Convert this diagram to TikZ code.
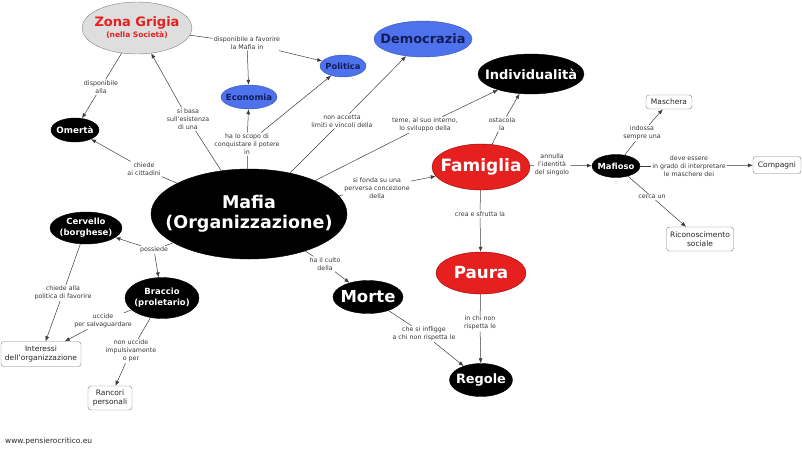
\documentclass[tikz,border=0pt]{standalone}
\usepackage{fontspec}
\setmainfont{DejaVu Sans}
\usetikzlibrary{shapes.geometric,arrows.meta}
\definecolor{cblue}{RGB}{78,114,236}
\definecolor{cnavy}{RGB}{18,28,88}
\definecolor{cred}{RGB}{230,32,30}
\definecolor{cgray}{RGB}{222,222,222}
\definecolor{lnk}{RGB}{60,60,60}
\definecolor{ltxt}{RGB}{55,55,55}
\tikzset{
 shp/.style={ellipse, inner sep=0pt},
 ctxt/.style={align=center, inner sep=0pt},
 blk/.style={fill=black, draw=black, text=white},
 blu/.style={fill=cblue, draw=cblue!75!black, text=cnavy},
 rd/.style={fill=cred, draw=red!60!black, text=white},
 gry/.style={fill=cgray, draw=gray, text=cred},
 bx/.style={draw=gray, rounded corners=3pt, fill=white, align=center, text=black!85,
   font=\fontsize{7.5}{9.5}\selectfont, inner sep=0pt},
 lbl/.style={align=center, font=\fontsize{6.3}{8}\selectfont, text=ltxt, inner sep=1pt},
 ln/.style={draw=lnk, line width=0.5pt},
 ar/.style={ln, -{Latex[length=5pt,width=4pt]}},
}
\newcommand\mkcpt[7]{%
 \node[shp, #2, minimum width=#4pt, minimum height=#5pt] (#1) at (#3) {};
 \node[ctxt, #2, draw=none, fill=none, font=#6] (#1t) at (#1.center) {#7};}
\begin{document}
\begin{tikzpicture}[x=1pt,y=-1pt]
\useasboundingbox (0,0) rectangle (802,451);
% concepts
\mkcpt{zona}{gry}{137,28}{110}{52}{\bfseries}{{\fontsize{13}{14}\selectfont Zona Grigia}\\[-1pt]{\fontsize{7.5}{9}\selectfont (nella Società)}}
\mkcpt{omerta}{blk}{75,130}{48}{24}{\bfseries\fontsize{8.8}{11}\selectfont}{Omertà}
\mkcpt{econ}{blu}{249,97}{56}{24}{\bfseries\fontsize{8.5}{11}\selectfont}{Economia}
\mkcpt{pol}{blu}{343,66}{46}{22}{\bfseries\fontsize{8.4}{11}\selectfont}{Politica}
\mkcpt{demo}{blu}{423,39}{98}{36}{\bfseries\fontsize{12.9}{15}\selectfont}{Democrazia}
\mkcpt{ind}{blk}{531,74}{106}{40}{\bfseries\fontsize{13}{15}\selectfont}{Individualità}
\mkcpt{fam}{rd}{481,167}{98}{46}{\bfseries\fontsize{17}{20}\selectfont}{Famiglia}
\mkcpt{mafioso}{blk}{616,166}{48}{23}{\bfseries\fontsize{8.4}{11}\selectfont}{Mafioso}
\mkcpt{mafia}{blk}{249,214}{196}{90}{\bfseries\fontsize{17.5}{20}\selectfont}{Mafia\\(Organizzazione)}
\mkcpt{cerv}{blk}{86,228}{72}{32}{\bfseries\fontsize{8.5}{11}\selectfont}{Cervello\\(borghese)}
\mkcpt{bracc}{blk}{162,298}{74}{41}{\bfseries\fontsize{8.5}{11}\selectfont}{Braccio\\(proletario)}
\mkcpt{morte}{blk}{368,297}{70}{33}{\bfseries\fontsize{16.5}{19}\selectfont}{Morte}
\mkcpt{paura}{rd}{481,273}{90}{42}{\bfseries\fontsize{16.7}{19}\selectfont}{Paura}
\mkcpt{regole}{blk}{481,380}{63}{33}{\bfseries\fontsize{12.9}{15}\selectfont}{Regole}
% boxes
\node[bx, minimum width=46pt, minimum height=14pt] (masch) at (669,102) {Maschera};
\node[bx, minimum width=48pt, minimum height=17pt] (comp) at (777,165) {Compagni};
\node[bx, minimum width=67pt, minimum height=24pt] (ricon) at (700,239) {Riconoscimento\\sociale};
\node[bx, minimum width=80pt, minimum height=25pt] (inter) at (41,354) {Interessi\\dell'organizzazione};
\node[bx, minimum width=44pt, minimum height=24pt] (ranc) at (110,398) {Rancori\\personali};
% linking phrases
\node[lbl] (l1) at (247,43) {disponibile a favorire\\la Mafia in};
\node[lbl] (l2) at (101,87) {disponibile\\alla};
\node[lbl] (l3) at (188,119) {si basa\\sull'esistenza\\di una};
\node[lbl] (l4) at (247,144) {ha lo scopo di\\conquistare il potere\\in};
\node[lbl] (l5) at (342,121) {non accetta\\limiti e vincoli della};
\node[lbl] (l6) at (425,125) {teme, al suo interno,\\lo sviluppo della};
\node[lbl] (l7) at (377,188) {si fonda su una\\perversa concezione\\della};
\node[lbl] (l8) at (144,169) {chiede\\ai cittadini};
\node[lbl] (l9) at (154,250) {possiede};
\node[lbl] (l10) at (325,264) {ha il culto\\della};
\node[lbl] (l11) at (502,124) {ostacola\\la};
\node[lbl] (l12) at (552,165) {annulla\\l'identità\\del singolo};
\node[lbl] (l13) at (480,214) {crea e sfrutta la};
\node[lbl] (l14) at (642,133) {indossa\\sempre una};
\node[lbl] (l15) at (689,166) {deve essere\\in grado di interpretare\\le maschere dei};
\node[lbl] (l16) at (652,197) {cerca un};
\node[lbl] (l17) at (480,323) {in chi non\\rispetta le};
\node[lbl] (l18) at (424,334) {che si infligge\\a chi non rispetta le};
\node[lbl] (l19) at (63,293) {chiede alla\\politica di favorire};
\node[lbl] (l20) at (103,321) {uccide\\per salvaguardare};
\node[lbl] (l21) at (131,351) {non uccide\\impulsivamente\\o per};
% footer
\node[anchor=west, inner sep=0pt, font=\fontsize{7.5}{9}\selectfont, text=black!85] (web) at (5,441) {www.pensierocritico.eu};
% connectors
\draw[ln] (zona) -- (l1); \draw[ar] (l1) -- (econ); \draw[ar] (l1) -- (pol);
\draw[ln] (zona) -- (l2); \draw[ar] (l2) -- (omerta);
\draw[ln] (mafia) -- (l3); \draw[ar] (l3) -- (zona);
\draw[ln] (mafia) -- (l4); \draw[ar] (l4) -- (econ); \draw[ar] (l4) -- (pol);
\draw[ln] (mafia) -- (l5); \draw[ar] (l5) -- (demo);
\draw[ln] (mafia) -- (l6); \draw[ar] (l6) -- (ind);
\draw[ln] (mafia) -- (l7); \draw[ar] (l7) -- (fam);
\draw[ln] (mafia) -- (l8); \draw[ar] (l8) -- (omerta);
\draw[ln] (mafia) -- (l9); \draw[ar] (l9) -- (cerv); \draw[ar] (l9) -- (bracc);
\draw[ln] (mafia) -- (l10); \draw[ar] (l10) -- (morte);
\draw[ln] (fam) -- (l11); \draw[ar] (l11) -- (ind);
\draw[ln] (fam) -- (l12); \draw[ar] (l12) -- (mafioso);
\draw[ln] (fam) -- (l13); \draw[ar] (l13) -- (paura);
\draw[ln] (mafioso) -- (l14); \draw[ar] (l14) -- (masch);
\draw[ln] (mafioso) -- (l15); \draw[ar] (l15) -- (comp);
\draw[ln] (mafioso) -- (l16); \draw[ar] (l16) -- (ricon);
\draw[ln] (paura) -- (l17); \draw[ar] (l17) -- (regole);
\draw[ln] (morte) -- (l18); \draw[ar] (l18) -- (regole);
\draw[ln] (cerv) -- (l19); \draw[ar] (l19) -- (inter);
\draw[ln] (bracc) -- (l20); \draw[ar] (l20) -- (inter);
\draw[ln] (bracc) -- (l21); \draw[ar] (l21) -- (ranc);
\end{tikzpicture}
\end{document}
